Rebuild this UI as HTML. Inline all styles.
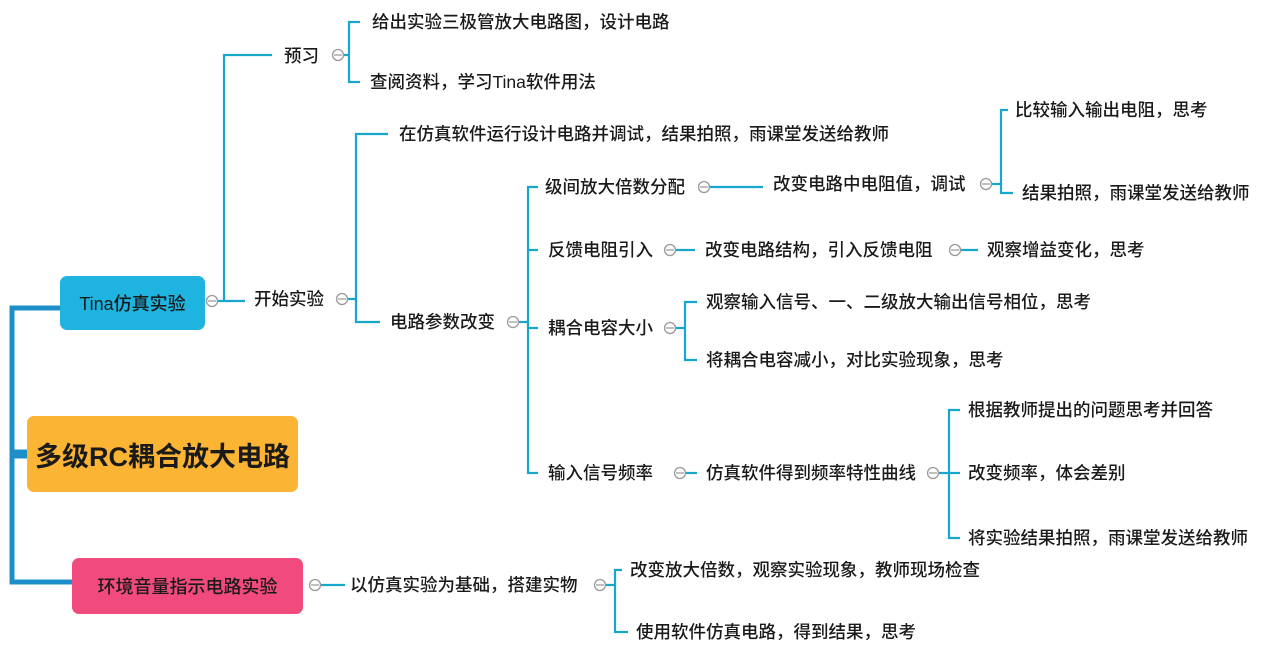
<!DOCTYPE html>
<html><head><meta charset="utf-8"><style>
body{margin:0;width:1264px;height:652px;background:#fff;position:relative;overflow:hidden;font-family:"Liberation Sans","Noto Sans CJK SC",sans-serif;}
.t{position:absolute;font-size:17.5px;line-height:24px;color:#1a1a1a;font-weight:500;white-space:nowrap;transform:translateY(-12px);}
.n{position:absolute;border-radius:7px;display:flex;align-items:center;justify-content:center;color:#1a1a1a;white-space:nowrap;font-weight:500;}
svg{position:absolute;left:0;top:0;}
</style></head><body>
<svg width="1264" height="652" fill="none">
<g stroke="#1c8fc9" stroke-width="5">
<path d="M60 308 H12 V582 H72"/><path d="M12 454 H27" stroke-width="9"/>
</g>
<g stroke="#17a7cc" stroke-width="2.2">
<path d="M218 301 H224 M224 301 V55 H272 M224 301 H245"/>
<path d="M344 55 H349 V22 H360 M349 55 V82 H360"/>
<path d="M348 299 H356 V134 H388 M356 299 V322 H380"/>
<path d="M519 322 H528 V187 H538 M528 322 V473 H538 M528 250 H538 M528 328 H538"/>
<path d="M710 187 H763"/>
<path d="M992 184 H1001 V110 H1008 M1001 184 V193 H1013"/>
<path d="M676 250 H695"/><path d="M961 250 H978"/>
<path d="M676 328 H685 V302 H697 M685 328 V360 H697"/>
<path d="M686 473 H697"/>
<path d="M939 473 H949 V410 H960 M949 473 H960 M949 473 V538 H960"/>
<path d="M321 585 H345"/>
<path d="M606 585 H615 V570 H622 M615 585 V632 H628"/>
</g>
<g stroke="#9a9a9a" stroke-width="1.3" fill="#fff">
<circle cx="212" cy="301" r="5.5"/><circle cx="338" cy="55" r="5.5"/><circle cx="342" cy="299" r="5.5"/>
<circle cx="513" cy="322" r="5.5"/><circle cx="704" cy="187" r="5.5"/><circle cx="986" cy="184" r="5.5"/>
<circle cx="670" cy="250" r="5.5"/><circle cx="955" cy="250" r="5.5"/><circle cx="670" cy="328" r="5.5"/>
<circle cx="680" cy="473" r="5.5"/><circle cx="933" cy="473" r="5.5"/><circle cx="315" cy="585" r="5.5"/>
<circle cx="600" cy="585" r="5.5"/>
</g>
<g stroke="#9a9a9a" stroke-width="1.3">
<path d="M208 301h8M334 55h8M338 299h8M509 322h8M700 187h8M982 184h8M666 250h8M951 250h8M666 328h8M676 473h8M929 473h8M311 585h8M596 585h8"/>
</g>
</svg>
<div class="n" style="left:27px;top:416px;width:271px;height:76px;background:#fbb434;font-size:27px;font-weight:bold;">多级RC耦合放大电路</div>
<div class="n" style="left:60px;top:276px;width:145px;height:54px;background:#1fb4e0;font-size:18px;">Tina仿真实验</div>
<div class="n" style="left:72px;top:558px;width:231px;height:56px;background:#f14b7d;font-size:18px;">环境音量指示电路实验</div>
<div class="t" style="left:284px;top:56px">预习</div>
<div class="t" style="left:372px;top:22px">给出实验三极管放大电路图，设计电路</div>
<div class="t" style="left:370px;top:82px">查阅资料，学习Tina软件用法</div>
<div class="t" style="left:254px;top:299px">开始实验</div>
<div class="t" style="left:399px;top:134px">在仿真软件运行设计电路并调试，结果拍照，雨课堂发送给教师</div>
<div class="t" style="left:390px;top:322px">电路参数改变</div>
<div class="t" style="left:545px;top:187px">级间放大倍数分配</div>
<div class="t" style="left:773px;top:184px">改变电路中电阻值，调试</div>
<div class="t" style="left:1015px;top:110px">比较输入输出电阻，思考</div>
<div class="t" style="left:1022px;top:193px">结果拍照，雨课堂发送给教师</div>
<div class="t" style="left:548px;top:250px">反馈电阻引入</div>
<div class="t" style="left:705px;top:250px">改变电路结构，引入反馈电阻</div>
<div class="t" style="left:987px;top:250px">观察增益变化，思考</div>
<div class="t" style="left:548px;top:328px">耦合电容大小</div>
<div class="t" style="left:706px;top:302px">观察输入信号、一、二级放大输出信号相位，思考</div>
<div class="t" style="left:706px;top:360px">将耦合电容减小，对比实验现象，思考</div>
<div class="t" style="left:548px;top:473px">输入信号频率</div>
<div class="t" style="left:706px;top:473px">仿真软件得到频率特性曲线</div>
<div class="t" style="left:968px;top:410px">根据教师提出的问题思考并回答</div>
<div class="t" style="left:968px;top:473px">改变频率，体会差别</div>
<div class="t" style="left:968px;top:538px">将实验结果拍照，雨课堂发送给教师</div>
<div class="t" style="left:350px;top:585px">以仿真实验为基础，搭建实物</div>
<div class="t" style="left:630px;top:570px">改变放大倍数，观察实验现象，教师现场检查</div>
<div class="t" style="left:636px;top:632px">使用软件仿真电路，得到结果，思考</div>
</body></html>
